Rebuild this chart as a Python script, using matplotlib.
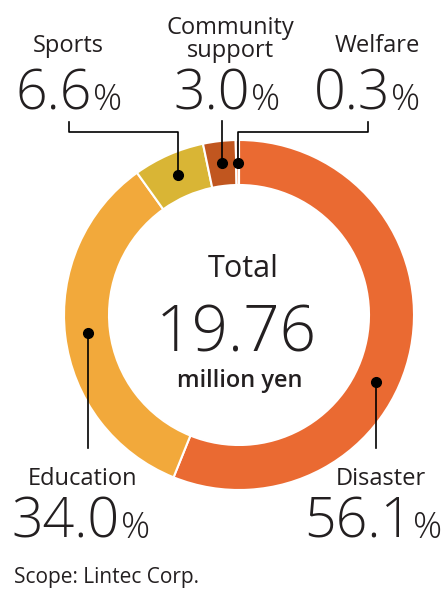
import numpy as np
import matplotlib.pyplot as plt

plt.rcParams['font.family'] = ['Open Sans', 'DejaVu Sans']

# donation breakdown (%)
labels = ['Disaster', 'Education', 'Sports', 'Community\nsupport', 'Welfare']
values = [56.1, 34.0, 6.6, 3.0, 0.3]
pct_text = ['56.1', '34.0', '6.6', '3.0', '0.3']
colors = ['#EA6A32', '#F2A93B', '#D9B535', '#C1561F', '#F3986A']
total_text = '19.76'

W, H = 448, 590
fig = plt.figure(figsize=(W / 100, H / 100), dpi=100)
ax = fig.add_axes([0, 0, 1, 1])

cx, cy = 239, H - 315   # y axis points up, picture y measured from top
r_out, ring = 175, 45

ax.pie(values, colors=colors, startangle=90, counterclock=False,
       radius=r_out, center=(cx, cy), frame=True,
       wedgeprops=dict(width=ring, edgecolor='white', linewidth=1.5))
ax.set_xlim(0, W)
ax.set_ylim(0, H)
ax.set_aspect('equal')
ax.axis('off')

# angle of each wedge middle
cum = np.cumsum([0] + values[:-1])
mid = 90 - (cum + np.array(values) / 2) * 3.6
mid[0] = -26   # disaster dot sits lower than its middle
r_dot = r_out - ring / 2
dot_x = cx + r_dot * np.cos(np.radians(mid))
dot_y = cy + r_dot * np.sin(np.radians(mid))

txt = '#231F20'
lw = 1.2

def Y(y):
    return H - y

# leader lines: (label x, elbow y) per slice
elbow = [(None, 448), (None, 448), (69, 132), (None, 121), (368, 132)]
for i, (ex, ey) in enumerate(elbow):
    if ex is None:
        ax.plot([dot_x[i], dot_x[i]], [dot_y[i], Y(ey)], color='black', lw=lw)
    else:
        ax.plot([dot_x[i], dot_x[i], ex, ex], [dot_y[i], Y(ey), Y(ey), Y(ey - 10)],
                color='black', lw=lw)
    ax.plot(dot_x[i], dot_y[i], 'o', color='black', ms=7)

# label texts: (name x, name baseline, number right x, number baseline)
pos = [(381, 485, 412, 538), (82, 485, 120, 538), (68, 52, 92, 110),
       (230, 57, 250, 110), (377, 52, 390, 110)]
for i, (nx, ny, px, pb) in enumerate(pos):
    ax.text(nx, Y(ny), labels[i], ha='center', va='baseline', fontsize=17,
            color=txt, linespacing=0.95)
    ax.text(px, Y(pb), pct_text[i], ha='right', va='baseline', fontsize=40,
            fontweight='light', color=txt)
    ax.text(px + 1, Y(pb), '%', ha='left', va='baseline', fontsize=26,
            fontweight='light', color=txt)

ax.text(243, Y(277), 'Total', ha='center', va='baseline', fontsize=22, color=txt)
ax.text(236, Y(352), total_text, ha='center', va='baseline', fontsize=46,
        fontweight='light', color=txt)
ax.text(240, Y(387), 'million yen', ha='center', va='baseline', fontsize=17,
        fontweight='semibold', color=txt)

ax.text(14, Y(583), 'Scope: Lintec Corp.', ha='left', va='baseline', fontsize=15,
        color=txt)

fig.savefig('out.png', dpi=100)
